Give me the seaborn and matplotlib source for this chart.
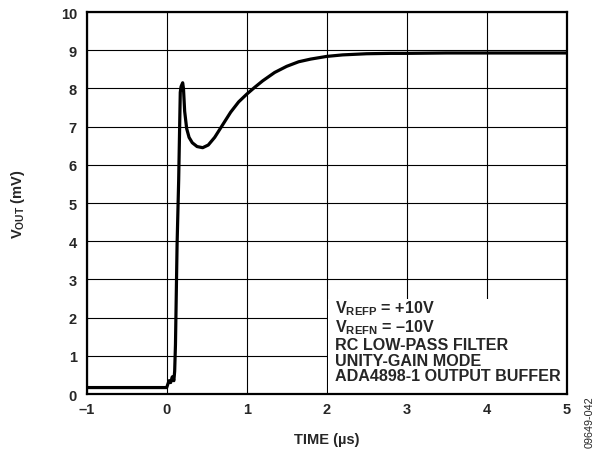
import numpy as np
import pandas as pd
import matplotlib
matplotlib.use("Agg")
import matplotlib.pyplot as plt
from matplotlib.patches import Rectangle
import seaborn as sns

time_us = [-1.0, -0.5, 0.0, 0.03, 0.05, 0.07, 0.09, 0.10, 0.11, 0.12, 0.13, 0.15, 0.17, 0.18, 0.20, 0.21,
           0.225, 0.25, 0.28, 0.32, 0.38, 0.45, 0.52, 0.60, 0.70, 0.80, 0.90, 1.00, 1.10, 1.20, 1.35, 1.50,
           1.65, 1.80, 2.00, 2.20, 2.50, 2.80, 3.00, 3.50, 4.00, 4.50, 5.00]
vout_mv = [0.17, 0.17, 0.17, 0.35, 0.30, 0.45, 0.35, 0.6, 1.3, 2.6, 3.9, 5.6, 7.9, 8.05, 8.15, 8.0,
           7.4, 6.95, 6.72, 6.58, 6.48, 6.45, 6.52, 6.72, 7.05, 7.38, 7.65, 7.85, 8.03, 8.2, 8.42, 8.58,
           8.7, 8.77, 8.84, 8.88, 8.91, 8.92, 8.92, 8.93, 8.93, 8.93, 8.93]
x_tick_labels = ["\u20131", "0", "1", "2", "3", "4", "5"]
note_lines = [r"$\mathregular{V_{REFP}}$ = +10V", r"$\mathregular{V_{REFN}}$ = " + "\u201310V",
              "RC LOW-PASS FILTER", "UNITY-GAIN MODE", "ADA4898-1 OUTPUT BUFFER"]

df = pd.DataFrame({"t": time_us, "v": vout_mv})

sns.set_theme(style="white")
plt.rcParams["font.family"] = ["Liberation Sans", "DejaVu Sans"]
plt.rcParams["font.weight"] = "bold"
plt.rcParams["mathtext.fontset"] = "custom"
plt.rcParams["mathtext.rm"] = "Liberation Sans:bold"
plt.rcParams["mathtext.bf"] = "Liberation Sans:bold"
plt.rcParams["mathtext.it"] = "Liberation Sans:bold"

fig = plt.figure(figsize=(5.99, 4.52), dpi=100)
ax = fig.add_axes([0.1447, 0.126, 0.8013, 0.845])

sns.lineplot(data=df, x="t", y="v", ax=ax, color="black", linewidth=2.3, zorder=3)

ax.set_xlim(-1, 5)
ax.set_ylim(0, 10)
ax.set_xticks(range(-1, 6))
ax.set_xticklabels(x_tick_labels)
ax.set_yticks(range(0, 11))
ax.grid(True, color="black", linewidth=0.8, zorder=0)
for s in ax.spines.values():
    s.set_color("black")
    s.set_linewidth(1.6)
    s.set_zorder(6)
ax.tick_params(axis="x", length=0, labelsize=10.5, pad=6)
ax.tick_params(axis="y", length=0, labelsize=10.5, pad=7)
for lab in ax.get_xticklabels() + ax.get_yticklabels():
    lab.set_fontweight("bold")

ax.set_xlabel("TIME (\u00b5s)", fontsize=10.5, fontweight="bold", labelpad=11)
ax.set_ylabel(r"$\mathregular{V_{OUT}}$ (mV)", fontsize=10.5, fontweight="bold", labelpad=24)

ax.add_patch(Rectangle((2.012, 0), 2.988, 2.48, facecolor="white", edgecolor="none", zorder=4))
ax.text(2.1, 0.28, "\n".join(note_lines), ha="left", va="bottom",
        fontsize=11.6, fontweight="bold", linespacing=1.06, zorder=5)

fig.text(0.985, 0.066, "09649-042", rotation=90, fontsize=7.8, fontweight="normal",
         ha="center", va="center")

fig.savefig("out.png", dpi=100)
